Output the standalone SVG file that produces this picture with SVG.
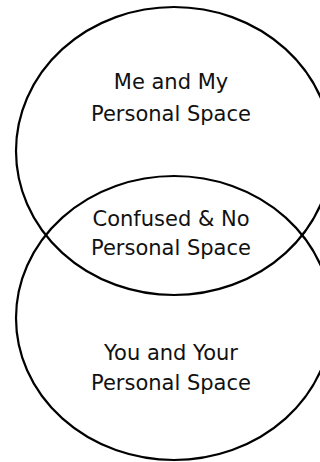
<svg xmlns="http://www.w3.org/2000/svg" width="320" height="462" viewBox="0 0 320 462">
<style>
.c{fill:none;stroke:#000;stroke-width:2.2}
.t{font-family:"DejaVu Sans","Liberation Sans",sans-serif;font-size:21px;fill:#111;text-anchor:middle}
</style>
<rect width="320" height="462" fill="#fff"/>
<g id="me">
<ellipse class="c" cx="174" cy="151" rx="158" ry="144"/>
<text class="t" x="171" y="89">Me and My</text>
<text class="t" x="171" y="121">Personal Space</text>
</g>
<g id="you">
<ellipse class="c" cx="174" cy="318" rx="158" ry="142"/>
<text class="t" x="171" y="360">You and Your</text>
<text class="t" x="171" y="390">Personal Space</text>
</g>
<g id="overlap">
<text class="t" x="171" y="226">Confused &amp; No</text>
<text class="t" x="171" y="255">Personal Space</text>
</g>
</svg>
